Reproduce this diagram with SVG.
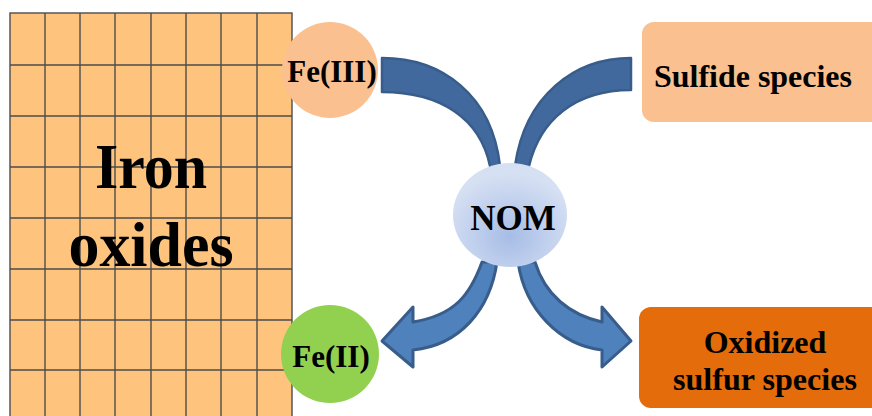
<svg xmlns="http://www.w3.org/2000/svg" width="872" height="416" viewBox="0 0 872 416">
<style>
.t{font-family:"Liberation Serif","Times New Roman",serif;font-weight:bold;fill:#000;text-anchor:middle}
.grid line{stroke:#4D4D4D;stroke-width:1.4}
.top{fill:#41699D;stroke:#385D8A;stroke-width:2.5;stroke-linejoin:round}
.bot{fill:#4F81BD;stroke:#385D8A;stroke-width:3;stroke-linejoin:round}
</style>
<defs>
<radialGradient id="nomg" cx="50%" cy="70%" r="60%">
<stop offset="0" stop-color="#A7BDE6"/>
<stop offset="1" stop-color="#D6E0F3"/>
</radialGradient>
</defs>
<rect width="872" height="416" fill="#fff"/>
<g id="iron-oxides">
<rect x="10" y="13" width="282" height="410" fill="#FEC47E" stroke="#4D4D4D" stroke-width="1.4"/>
<g class="grid">
<line x1="45" y1="13" x2="45" y2="416"/>
<line x1="80" y1="13" x2="80" y2="416"/>
<line x1="115" y1="13" x2="115" y2="416"/>
<line x1="151" y1="13" x2="151" y2="416"/>
<line x1="186" y1="13" x2="186" y2="416"/>
<line x1="221" y1="13" x2="221" y2="416"/>
<line x1="257" y1="13" x2="257" y2="416"/>
<line x1="10" y1="65" x2="292" y2="65"/>
<line x1="10" y1="116" x2="292" y2="116"/>
<line x1="10" y1="167" x2="292" y2="167"/>
<line x1="10" y1="218" x2="292" y2="218"/>
<line x1="10" y1="269" x2="292" y2="269"/>
<line x1="10" y1="320" x2="292" y2="320"/>
<line x1="10" y1="370" x2="292" y2="370"/>
</g>
<text class="t" x="151" y="188" font-size="64" textLength="112" lengthAdjust="spacingAndGlyphs">Iron</text>
<text class="t" x="151" y="266" font-size="64" textLength="165" lengthAdjust="spacingAndGlyphs">oxides</text>
</g>
<g id="connectors">
<path class="top" d="M382,58 C442,58 492,95 500,166 L490,166 C480,118 440,92 382,92 Z"/>
<path class="top" d="M631,58 C575,58 525,95 515,166 L529,166 C540,120 575,90 631,90 Z"/>
<path class="bot" d="M482,262 C470,295 455,315 413,322 L413,307 L382,341 L413,367 L413,350 C460,345 490,310 497,262 Z"/>
<path class="bot" d="M518,262 C525,310 560,345 602,350 L602,367 L631,341 L602,307 L602,322 C570,315 545,295 535,262 Z"/>
</g>
<g id="fe3">
<circle cx="330" cy="70" r="48" fill="#FAC090"/>
<text class="t" x="332" y="82" font-size="31">Fe(III)</text>
</g>
<g id="nom">
<ellipse cx="510" cy="215" rx="57" ry="52" fill="url(#nomg)"/>
<text class="t" x="513" y="230" font-size="35">NOM</text>
</g>
<g id="fe2">
<circle cx="330" cy="354" r="49" fill="#92D050"/>
<text class="t" x="331" y="367" font-size="31">Fe(II)</text>
</g>
<g id="sulfide">
<rect x="642" y="22" width="250" height="100" rx="12" fill="#FAC090"/>
<text class="t" x="753" y="87" font-size="31" textLength="198" lengthAdjust="spacingAndGlyphs">Sulfide species</text>
</g>
<g id="oxidized">
<rect x="639" y="307" width="250" height="101" rx="12" fill="#E46C0A"/>
<text class="t" x="765" y="353" font-size="32">Oxidized</text>
<text class="t" x="765" y="390" font-size="32" textLength="184" lengthAdjust="spacingAndGlyphs">sulfur species</text>
</g>
</svg>
